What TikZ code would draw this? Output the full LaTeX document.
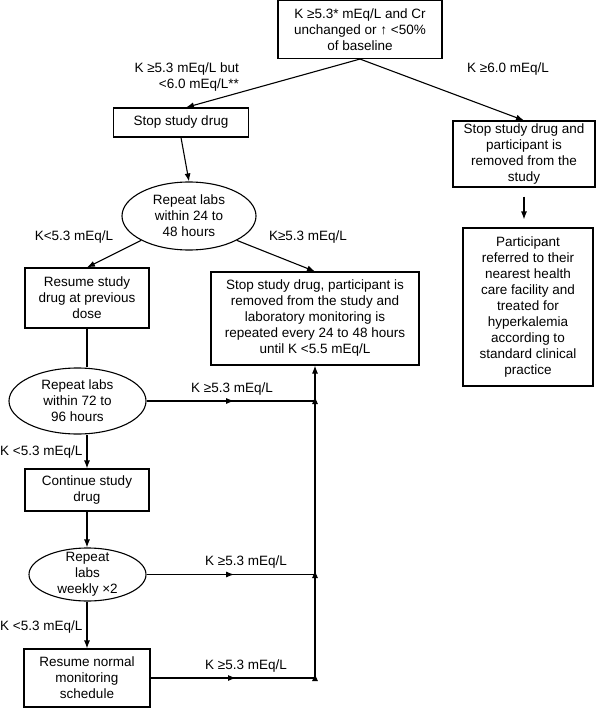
\documentclass[tikz,border=0pt]{standalone}
\usepackage{fontspec}
\setmainfont{Liberation Sans}
\usetikzlibrary{arrows.meta,shapes.geometric,calc,decorations.markings}

\begin{document}
\begin{tikzpicture}[x=1bp,y=-1bp,
  every node/.style={font=\fontsize{13.5bp}{16bp}\selectfont},
  box/.style={draw, line width=1.1bp, align=center, inner sep=0pt},
  oval/.style={draw, ellipse, line width=1.1bp, align=center, inner sep=0pt},
  lbl/.style={inner sep=0pt, align=center},
  conn/.style={line width=1.1bp},
  tip/.tip={Latex[length=8bp,width=6bp]},
  arr/.style={conn, -tip},
  midarr/.style={conn, postaction=decorate,
    decoration={markings, mark=at position 0.52 with {\arrow{tip}}}},
]
\useasboundingbox (0,0) rectangle (600,709);

% boxes
\node[box, minimum width=164bp, minimum height=58bp] (top) at (360,29.5)
  {K ≥5.3* mEq/L and Cr\\unchanged or ↑ <50\%\\of baseline};
\node[box, minimum width=135bp, minimum height=29bp] (stop) at (181,122.5)
  {Stop study drug};
\node[box, minimum width=142bp, minimum height=66bp] (rbox) at (524,154)
  {Stop study drug and\\participant is\\removed from the\\study};
\node[box, minimum width=130bp, minimum height=158bp] (part) at (528,307)
  {Participant\\referred to their\\nearest health\\care facility and\\treated for\\hyperkalemia\\according to\\standard clinical\\practice};
\node[oval, minimum width=134bp, minimum height=68bp] (ell1) at (189,216)
  {Repeat labs\\within 24 to\\48 hours};
\node[box, minimum width=124bp, minimum height=60bp] (resume) at (87,298)
  {Resume study\\drug at previous\\dose};
\node[box, minimum width=208bp, minimum height=93bp] (mid) at (315,318.5)
  {Stop study drug, participant is\\removed from the study and\\laboratory monitoring is\\repeated every 24 to 48 hours\\until K <5.5 mEq/L};
\node[oval, minimum width=137bp, minimum height=66bp] (ell2) at (77.5,401)
  {Repeat labs\\within 72 to\\96 hours};
\node[box, minimum width=124bp, minimum height=42bp] (cont) at (87,490)
  {Continue study\\drug};
\node[oval, inner ysep=-6bp, minimum width=117bp, minimum height=53bp] (ell3) at (87.5,574.5)
  {Repeat\\labs\\weekly ×2};
\node[box, minimum width=126bp, minimum height=58bp] (rnorm) at (87,678)
  {Resume normal\\monitoring\\schedule};

% labels
\node[lbl, anchor=east, align=right] (l1) at (239,77) {K ≥5.3 mEq/L but\\<6.0 mEq/L**};
\node[lbl] (l2) at (508,69) {K ≥6.0 mEq/L};
\node[lbl] (l3) at (74,237) {K<5.3 mEq/L};
\node[lbl] (l4) at (308,237) {K≥5.3 mEq/L};
\node[lbl] (l5) at (232,389) {K ≥5.3 mEq/L};
\node[lbl, anchor=west] (l6) at (0,452) {K <5.3 mEq/L};
\node[lbl] (l7) at (246,562) {K ≥5.3 mEq/L};
\node[lbl, anchor=west] (l8) at (0,627) {K <5.3 mEq/L};
\node[lbl] (l9) at (246,666) {K ≥5.3 mEq/L};

% junctions
\coordinate (j1) at (ell2.east -| mid.south);
\coordinate (j2) at (ell3.east -| mid.south);
\coordinate (j3) at (rnorm.east -| mid.south);

% connectors
\draw[arr] (top.south) -- ($(stop.north)+(5,0)$);
\draw[arr] (top.south) -- (rbox.north);
\draw[arr, shorten <=9bp, shorten >=8bp] (rbox.south) -- (rbox.south |- part.north);
\draw[arr] (stop.south) -- (ell1.north);
\draw[arr] (ell1.207) -- (resume.north);
\draw[arr] (ell1.333) -- (mid.north);
\draw[conn] (resume.south) -- (resume.south |- ell2.north);
\draw[arr] (cont.north |- ell2.south) -- (cont.north);
\draw[arr] (cont.south) -- (cont.south |- ell3.north);
\draw[arr] (rnorm.north |- ell3.south) -- (rnorm.north);
\draw[midarr] (ell2.east) -- (j1);
\draw[midarr] (ell3.east) -- (j2);
\draw[midarr] (rnorm.east) -- (j3);
\draw[arr, postaction=decorate, decoration={markings,
    mark=at position 5bp with {\arrow{tip}},
    mark=at position 108bp with {\arrow{tip}},
    mark=at position 282bp with {\arrow{tip}}}]
  (j3) -- (mid.south);
\end{tikzpicture}
\end{document}
